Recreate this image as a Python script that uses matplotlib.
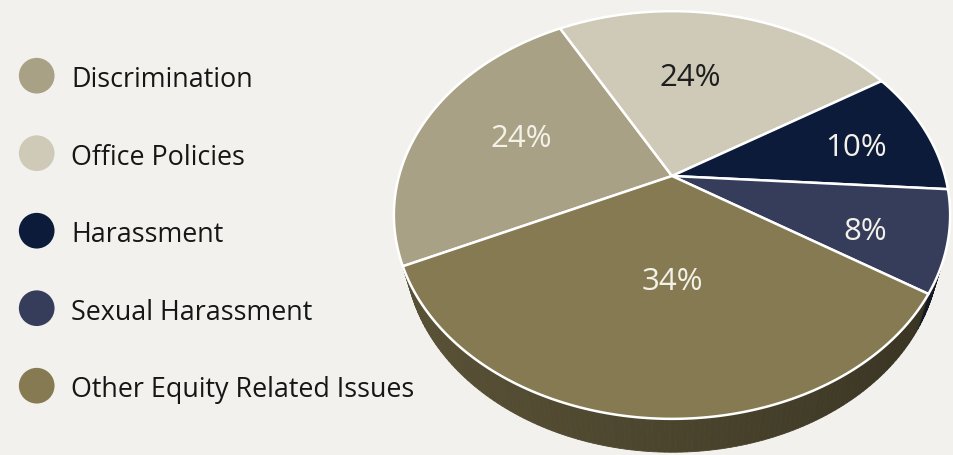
import numpy as np
import matplotlib
matplotlib.use("Agg")
import matplotlib.pyplot as plt
from matplotlib.patches import Polygon

categories = ["Discrimination", "Office Policies", "Harassment",
              "Sexual Harassment", "Other Equity Related Issues"]
shares = [24, 24, 10, 8, 34]
colors = ["#A9A185", "#CFCAB7", "#0C1B3A", "#353D5B", "#857A51"]
label_colors = ["#F4F1E8", "#1E1E1E", "#F4F1E8", "#F4F1E8", "#F4F1E8"]

# where each % label sits: radius fraction and angular nudge (degrees)
label_radius = [0.615, 0.585, 0.718, 0.72, 0.472]
label_shift = [-2.8, 7.4, -0.3, -2.2, 4.0]

BG = "#F2F1ED"

# 3d pie geometry (pixel space of the figure)
CX, CY, R = 672, 177, 273
ELEV = np.radians(46)
DIST = 3.63
THICK = 0.2
START = 205.0

sin_e, cos_e = np.sin(ELEV), np.cos(ELEV)


def project(t_deg, rho, z=0.0):
    t = np.radians(t_deg)
    x = rho * np.cos(t)
    y = rho * np.sin(t)
    up = y * sin_e + z * cos_e
    depth = y * cos_e - z * sin_e
    s = DIST / (DIST + depth)
    return CX + x * s * R, CY - up * s * R


def shade(hex_color, f):
    rgb = np.array(matplotlib.colors.to_rgb(hex_color))
    return tuple(np.clip(rgb * f, 0, 1))


fig = plt.figure(figsize=(9.54, 4.56), dpi=100, facecolor=BG)
ax = fig.add_axes([0, 0, 1, 1])
ax.set_xlim(0, 954)
ax.set_ylim(456, 0)
ax.axis("off")
ax.set_facecolor(BG)

# slice angle ranges, clockwise from START
spans = np.array(shares) / sum(shares) * 360.0
ends = START - np.cumsum(spans)
starts = ends + spans

# side wall, drawn in small strips with light from the left
for a0, a1, col in zip(starts, ends, colors):
    angs = np.linspace(a0, a1, max(int(abs(a0 - a1)) + 2, 3))
    for t0, t1 in zip(angs[:-1], angs[1:]):
        tm = 0.5 * (t0 + t1)
        f = 0.36 + 0.15 * (np.cos(np.radians(tm - 200)) + 1)
        pts = [project(t0, 1, 0), project(t1, 1, 0),
               project(t1, 1, -THICK), project(t0, 1, -THICK)]
        c = shade(col, f)
        ax.add_patch(Polygon(pts, closed=True, facecolor=c, edgecolor=c,
                             lw=0.6, zorder=1))

# top faces
for a0, a1, col in zip(starts, ends, colors):
    angs = np.linspace(a0, a1, 200)
    pts = [project(0, 0)] + [project(t, 1) for t in angs]
    ax.add_patch(Polygon(pts, closed=True, facecolor=col, edgecolor="white",
                         lw=1.8, joinstyle="round", zorder=2))

# percentage labels
for a0, a1, v, lc, rr, dt in zip(starts, ends, shares, label_colors,
                                 label_radius, label_shift):
    lx, ly = project(0.5 * (a0 + a1) + dt, rr)
    ax.text(lx, ly, f"{v}%", color=lc, fontsize=22.5, family="Open Sans",
            ha="center", va="center_baseline", zorder=3)

# legend
for i, (name, col) in enumerate(zip(categories, colors)):
    y = 76.7 + i * 77.5
    ax.scatter([36.7], [y], s=660, color=col, edgecolors="none", zorder=3)
    ax.text(71, y, name, fontsize=19.4, family="Open Sans", color="#161616",
            ha="left", va="center_baseline", zorder=3)

fig.savefig("out.png", dpi=100, facecolor=BG)
